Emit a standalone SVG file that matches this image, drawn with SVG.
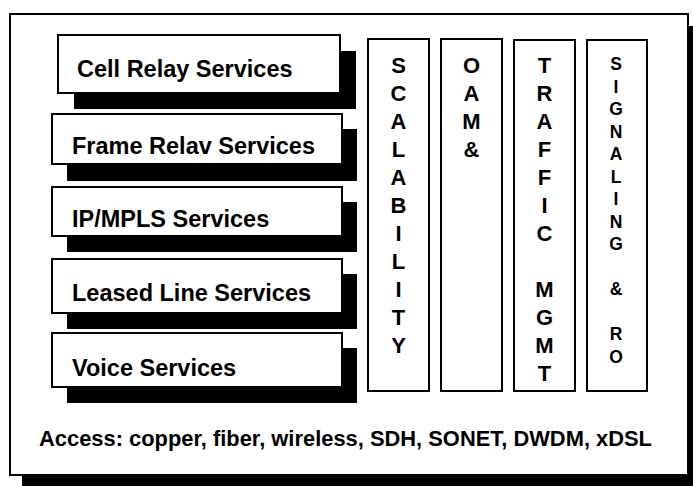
<svg xmlns="http://www.w3.org/2000/svg" width="693" height="486" viewBox="0 0 693 486">
<style>
.frame{fill:#fff;stroke:#000;stroke-width:2}
.shadow{fill:#000}
.box{fill:#fff;stroke:#000;stroke-width:2}
.lbl{font-family:"Liberation Sans",Arial,sans-serif;font-weight:bold;font-size:23.5px;fill:#000}
.vl{font-family:"Liberation Sans",Arial,sans-serif;font-weight:bold;font-size:22px;fill:#000;text-anchor:middle}
.vs{font-family:"Liberation Sans",Arial,sans-serif;font-weight:bold;font-size:17.5px;fill:#000;text-anchor:middle}
.acc{font-family:"Liberation Sans",Arial,sans-serif;font-weight:bold;font-size:21.5px;fill:#000}
</style>
<rect width="693" height="486" fill="#fff"/>
<g id="frame">
<rect class="shadow" x="22" y="26" width="680" height="470"/>
<rect class="frame" x="10" y="14" width="678" height="461"/>
</g>
<g id="cell-relay">
<rect class="shadow" x="74" y="51" width="282" height="58"/>
<rect class="box" x="58" y="35" width="282" height="58"/>
<text class="lbl" x="77" y="77">Cell Relay Services</text>
</g>
<g id="frame-relay">
<rect class="shadow" x="67" y="129" width="290" height="52"/>
<rect class="box" x="52" y="114" width="290" height="50"/>
<text class="lbl" x="72" y="154">Frame Relav Services</text>
</g>
<g id="ip-mpls">
<rect class="shadow" x="67" y="202" width="290" height="50"/>
<rect class="box" x="52" y="187" width="290" height="49"/>
<text class="lbl" x="72" y="227">IP/MPLS Services</text>
</g>
<g id="leased-line">
<rect class="shadow" x="67" y="274" width="290" height="55"/>
<rect class="box" x="52" y="259" width="290" height="54"/>
<text class="lbl" x="72" y="301">Leased Line Services</text>
</g>
<g id="voice">
<rect class="shadow" x="67" y="348" width="290" height="55"/>
<rect class="box" x="52" y="333" width="290" height="54"/>
<text class="lbl" x="72" y="376">Voice Services</text>
</g>
<g id="scalability">
<rect class="box" x="368" y="39" width="61" height="352"/>
<text class="vl"><tspan x="398.5" y="73">S</tspan><tspan x="398.5" y="101">C</tspan><tspan x="398.5" y="129">A</tspan><tspan x="398.5" y="157">L</tspan><tspan x="398.5" y="185">A</tspan><tspan x="398.5" y="213">B</tspan><tspan x="398.5" y="241">I</tspan><tspan x="398.5" y="269">L</tspan><tspan x="398.5" y="297">I</tspan><tspan x="398.5" y="325">T</tspan><tspan x="398.5" y="353">Y</tspan></text>
</g>
<g id="oam">
<rect class="box" x="441" y="39" width="61" height="352"/>
<text class="vl"><tspan x="471.5" y="73">O</tspan><tspan x="471.5" y="101">A</tspan><tspan x="471.5" y="129">M</tspan><tspan x="471.5" y="157">&amp;</tspan></text>
</g>
<g id="traffic-mgmt">
<rect class="box" x="514" y="40" width="61" height="351"/>
<text class="vl"><tspan x="544.5" y="73">T</tspan><tspan x="544.5" y="101">R</tspan><tspan x="544.5" y="129">A</tspan><tspan x="544.5" y="157">F</tspan><tspan x="544.5" y="185">F</tspan><tspan x="544.5" y="213">I</tspan><tspan x="544.5" y="241">C</tspan><tspan x="544.5" y="297">M</tspan><tspan x="544.5" y="325">G</tspan><tspan x="544.5" y="353">M</tspan><tspan x="544.5" y="381">T</tspan></text>
</g>
<g id="signaling-ro">
<rect class="box" x="587" y="40" width="60" height="351"/>
<text class="vs"><tspan x="616" y="70">S</tspan><tspan x="616" y="92.5">I</tspan><tspan x="616" y="115">G</tspan><tspan x="616" y="137.5">N</tspan><tspan x="616" y="160">A</tspan><tspan x="616" y="182.5">L</tspan><tspan x="616" y="205">I</tspan><tspan x="616" y="227.5">N</tspan><tspan x="616" y="250">G</tspan><tspan x="616" y="295">&amp;</tspan><tspan x="616" y="340">R</tspan><tspan x="616" y="362.5">O</tspan></text>
</g>
<g id="access">
<text class="acc" x="39" y="446" textLength="613" lengthAdjust="spacingAndGlyphs">Access: copper, fiber, wireless, SDH, SONET, DWDM, xDSL</text>
</g>
</svg>
